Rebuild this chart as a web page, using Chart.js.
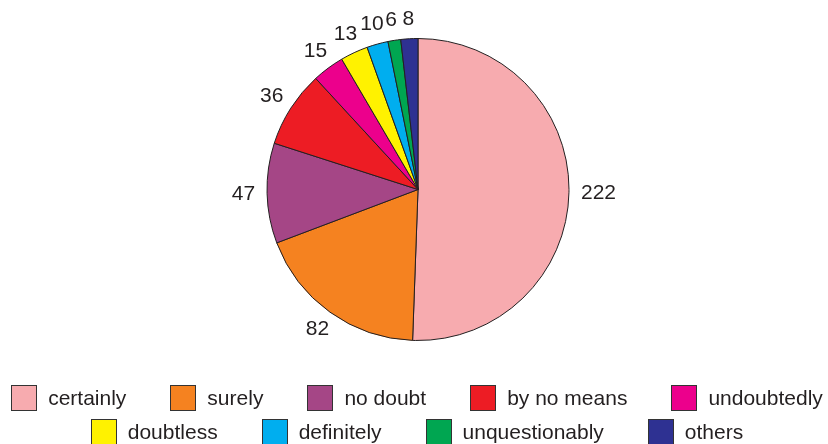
<!DOCTYPE html>
<html>
<head>
<meta charset="utf-8">
<script src="https://cdn.jsdelivr.net/npm/chart.js@4"></script>
<style>
    html, body { margin: 0; padding: 0; background: #fff; }
    #wrap { position: relative; width: 828px; height: 444px; overflow: hidden; }
    #legend {
        position: absolute; left: 0; top: 385px; width: 828px; padding-left: 6px; box-sizing: border-box;
        font-family: "Liberation Sans", Arial, sans-serif; font-size: 21px; color: #231f20;
    }
    #legend .row { display: flex; justify-content: center; gap: 44px; height: 26px; margin-bottom: 8px; }
    #legend .item { display: flex; align-items: center; line-height: 26px; white-space: nowrap; }
    #legend .box { width: 26px; height: 26px; box-sizing: border-box; border: 1px solid #333; margin-right: 11px; }
</style>
</head>
<body>
<div id="wrap">
    <canvas id="pieChart" width="828" height="444"></canvas>
    <div id="legend"></div>
</div>
<script>
const labels = ['certainly', 'surely', 'no doubt', 'by no means', 'undoubtedly',
                'doubtless', 'definitely', 'unquestionably', 'others'];
const counts = [222, 82, 47, 36, 15, 13, 10, 6, 8];
const colors = ['#f7abaf', '#f58220', '#a54686', '#ed1c24', '#ec008c',
                '#fff200', '#00aeef', '#00a651', '#2e3192'];
const legendRows = [5, 4];

// Valeurs écrites à l'extérieur de chaque part
const outsideLabels = {
    id: 'outsideLabels',
    afterDatasetsDraw(chart) {
        const ctx = chart.ctx;
        const meta = chart.getDatasetMeta(0);
        ctx.save();
        ctx.font = '21px "Liberation Sans", Arial, sans-serif';
        ctx.fillStyle = '#231f20';
        ctx.textAlign = 'center';
        ctx.textBaseline = 'middle';
        meta.data.forEach((arc, i) => {
            const p = arc.getProps(['x', 'y', 'startAngle', 'endAngle', 'outerRadius'], true);
            const a = (p.startAngle + p.endAngle) / 2;
            const text = String(counts[i]);
            const hw = ctx.measureText(text).width / 2;
            const hh = 8;
            const ext = Math.sqrt(Math.pow(hw * Math.cos(a), 2) + Math.pow(hh * Math.sin(a), 2));
            const r = p.outerRadius + 12 + ext;
            ctx.fillText(text, p.x + r * Math.cos(a), p.y + r * Math.sin(a));
        });
        ctx.restore();
    }
};

new Chart(document.getElementById('pieChart'), {
    type: 'pie',
    data: {
        labels: labels,
        datasets: [{
            data: counts,
            backgroundColor: colors,
            borderColor: '#231f20',
            borderWidth: 1
        }]
    },
    options: {
        responsive: false,
        animation: false,
        layout: {
            padding: { top: 38, bottom: 103, left: 8, right: 0 }
        },
        plugins: {
            legend: { display: false },
            tooltip: { enabled: false }
        }
    },
    plugins: [outsideLabels]
});

// Légende sur deux lignes
const legend = document.getElementById('legend');
let idx = 0;
legendRows.forEach(n => {
    const row = document.createElement('div');
    row.className = 'row';
    for (let k = 0; k < n; k++, idx++) {
        const item = document.createElement('div');
        item.className = 'item';
        item.innerHTML = `<span class="box" style="background:${colors[idx]}"></span><span>${labels[idx]}</span>`;
        row.appendChild(item);
    }
    legend.appendChild(row);
});
</script>
</body>
</html>
